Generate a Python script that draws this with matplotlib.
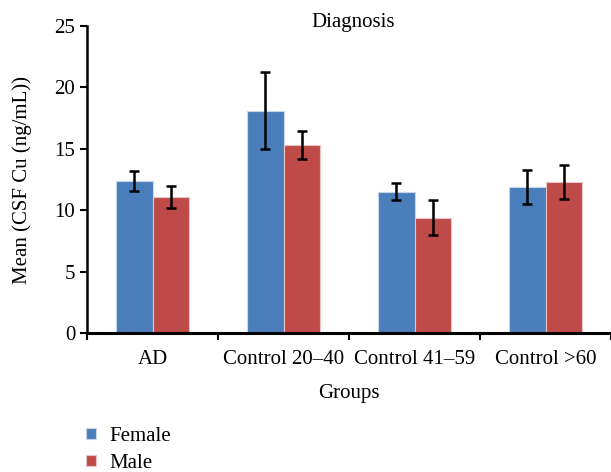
import matplotlib.pyplot as plt
import numpy as np

plt.rcParams['font.family'] = ['Liberation Serif', 'DejaVu Serif']

# --- data ---
groups = ["AD", "Control 20\u201340", "Control 41\u201359", "Control >60"]
female_mean = [12.4, 18.1, 11.5, 11.9]
female_err = [0.8, 3.15, 0.7, 1.4]
male_mean = [11.1, 15.3, 9.4, 12.3]
male_err = [0.9, 1.15, 1.45, 1.35]

blue = '#4A7EBB'
red = '#BE4B48'
fs = 15

fig = plt.figure(figsize=(6.11, 4.72), dpi=100)
ax = fig.add_axes([0.1424, 0.2945, 0.8576, 0.6504])

x = np.arange(len(groups))
w = 0.28
err_kw = dict(ecolor='black', elinewidth=1.8, capsize=3.5, capthick=1.8)
ax.bar(x - w / 2, female_mean, w, yerr=female_err, color=blue,
       edgecolor='#c8d6ea', linewidth=0.8, error_kw=err_kw, label='Female')
ax.bar(x + w / 2, male_mean, w, yerr=male_err, color=red,
       edgecolor='#ebc4c3', linewidth=0.8, error_kw=err_kw, label='Male')

ax.set_xlim(-0.5, 3.5)
ax.set_ylim(0, 25)
ax.set_yticks([0, 5, 10, 15, 20, 25])

# category ticks sit on the boundaries, labels at the centres
ax.set_xticks(np.arange(-0.5, 4.0, 1.0))
ax.set_xticklabels([])
ax.set_xticks(x, minor=True)
ax.set_xticklabels(groups, minor=True, fontsize=fs)
ax.tick_params(axis='x', which='minor', length=0, pad=12)
ax.tick_params(axis='x', which='major', length=5, width=1.5, direction='out')
ax.tick_params(axis='y', length=5, width=1.5, direction='out', labelsize=fs)

for side in ['top', 'right']:
    ax.spines[side].set_visible(False)
ax.spines['left'].set_linewidth(1.8)
ax.spines['bottom'].set_linewidth(2.2)

ax.set_xlabel("Groups", fontsize=fs, labelpad=11)
ax.set_ylabel("Mean (CSF Cu (ng/mL))", fontsize=fs, labelpad=16)
# title sits on the top of the plot area
fig.text(353 / 611, 1 - 27 / 472, "Diagnosis", fontsize=fs,
         ha='center', va='baseline')

fig.legend(loc='upper left', bbox_to_anchor=(86 / 611, 1 - 427 / 472),
           frameon=False, fontsize=fs, borderpad=0, borderaxespad=0,
           handlelength=0.48, handleheight=0.48,
           handletextpad=0.65, labelspacing=0.38)

fig.savefig("out.png", dpi=100)
